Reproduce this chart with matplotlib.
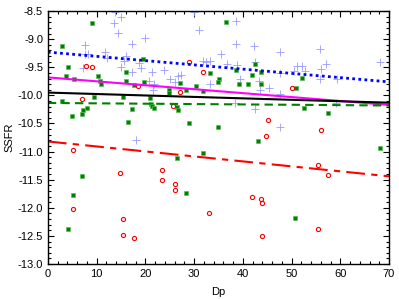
import numpy as np
import matplotlib
matplotlib.use('Agg')
import matplotlib.pyplot as plt
from matplotlib.ticker import MultipleLocator

# blue plus points
blue_x = [13.7, 15.1, 13.6, 14.3, 19.9, 7.7, 17.3, 7.7, 8.2, 11.8, 12.2, 16.0, 15.7, 15.1,
          7.3, 17.3, 18.7, 19.2, 21.3, 20.7, 21.7, 21.6, 23.8, 18.0,
          31.0, 30.0, 38.7, 38.7, 42.3, 31.8, 32.5, 33.2, 36.7, 38.9, 42.6,
          26.7, 27.3, 25.1, 26.0, 33.2, 39.4, 43.4, 43.5, 38.3, 42.4, 35.6,
          47.6, 55.8, 51.1, 52.1, 50.6, 52.8, 56.0, 57.0, 55.9, 59.3, 68.2,
          47.6, 59.2, 47.7, 47.6, 45.4]
blue_y = [-8.52, -8.61, -8.71, -8.89, -8.98, -9.10, -9.09, -9.27, -9.26, -9.22, -9.34, -9.30, -9.39, -9.50,
          -9.51, -9.59, -9.42, -9.52, -9.58, -9.74, -9.80, -9.90, -9.55, -10.80,
          -8.84, -8.52, -8.68, -9.08, -9.13, -9.39, -9.40, -9.39, -9.44, -9.46, -9.40,
          -9.65, -9.63, -9.71, -9.77, -9.79, -9.70, -9.75, -9.91, -10.14, -10.25, -9.27,
          -9.23, -9.17, -9.47, -9.47, -9.56, -9.56, -9.53, -9.45, -9.70, -9.71, -9.41,
          -9.97, -10.14, -10.56, -9.60, -9.86]

# green square points
green_x = [9.0, 2.9, 4.2, 3.7, 5.3, 10.3, 10.7, 11.0, 16.0, 16.0, 19.5, 19.7, 17.7,
           2.9, 9.4, 15.4, 20.9, 21.2, 21.4, 21.7, 4.9, 7.0, 7.3, 8.0, 17.3, 16.4,
           36.6, 24.9, 24.9, 27.2, 28.4, 30.3, 31.9, 33.2, 35.2, 35.0, 38.7, 39.3, 41.0,
           41.8, 42.5, 43.7, 43.7, 26.4, 26.6, 28.9, 35.0,
           52.1, 51.0, 52.6, 57.5, 68.2, 50.7, 43.1, 31.9, 26.4, 28.4, 7.1, 5.2, 4.2]
green_y = [-8.71, -9.12, -9.50, -9.65, -9.70, -9.66, -9.75, -9.80, -9.59, -9.74, -9.36, -9.77, -9.82,
           -10.10, -10.02, -10.02, -10.05, -10.16, -10.19, -10.22, -10.37, -10.33, -10.26, -10.22, -10.24, -10.47,
           -8.70, -9.90, -9.96, -9.78, -9.91, -9.83, -9.93, -9.60, -9.70, -9.76, -9.54, -9.80, -9.80,
           -9.63, -9.45, -9.59, -9.80, -10.20, -10.26, -10.49, -10.57,
           -9.69, -9.86, -10.23, -10.31, -10.94, -12.18, -10.82, -11.03, -11.12, -11.74, -11.43, -11.78, -12.38]

# red open circles
red_x = [7.9, 9.0, 7.1, 18.4, 25.7, 27.2, 28.9, 31.8, 45.2, 44.8, 50.1, 56.0,
         5.1, 14.7, 23.5, 23.5, 5.1, 15.4, 15.4, 17.7, 26.1, 26.1, 33.1, 41.8,
         43.7, 43.9, 43.9, 55.5, 57.5, 55.5]
red_y = [-9.47, -9.50, -10.06, -9.83, -10.19, -9.94, -9.41, -9.59, -10.43, -10.73, -9.86, -10.62,
         -10.98, -11.38, -11.32, -11.51, -12.03, -12.20, -12.49, -12.54, -11.57, -11.69, -12.10, -11.80,
         -11.84, -11.92, -12.51, -11.24, -11.41, -12.37]

# fitted lines: value at Dp=0 and Dp=70
line_x = [0, 70]
blue_fit = [-9.23, -9.76]
magenta_fit = [-9.68, -10.17]
black_fit = [-9.95, -10.13]
green_fit = [-10.135, -10.18]
red_fit = [-10.82, -11.44]

plt.rcParams['font.family'] = 'Liberation Sans'
plt.rcParams['font.size'] = 8

fig = plt.figure(figsize=(3.99, 2.99), dpi=100)
ax = fig.add_axes([0.120, 0.117, 0.855, 0.846])

ax.plot(blue_x, blue_y, '+', color='#9a9aff', markersize=6, markeredgewidth=0.6)
ax.plot(green_x, green_y, 's', color='#008000', markersize=3.5, markeredgewidth=0.5,
        markeredgecolor='#5cb85c')
ax.plot(red_x, red_y, 'o', markerfacecolor='none', markeredgecolor='red',
        markersize=3, markeredgewidth=0.8)

ax.plot(line_x, blue_fit, color='blue', linestyle=(0, (1, 1.2)), linewidth=2)
ax.plot(line_x, magenta_fit, color='magenta', linewidth=1.5)
ax.plot(line_x, black_fit, color='black', linewidth=1.5)
ax.plot(line_x, green_fit, color='#008000', linestyle=(0, (4, 2.5)), linewidth=1.5)
ax.plot(line_x, red_fit, color='red', linestyle=(0, (9, 3, 3, 3)), linewidth=1.5)

ax.set_xlim(0, 70)
ax.set_ylim(-13.0, -8.5)
ax.xaxis.set_major_locator(MultipleLocator(10))
ax.xaxis.set_minor_locator(MultipleLocator(2))
ax.yaxis.set_major_locator(MultipleLocator(0.5))
ax.yaxis.set_minor_locator(MultipleLocator(0.1))
ax.yaxis.set_major_formatter(matplotlib.ticker.FormatStrFormatter('%.1f'))
ax.tick_params(which='both', direction='in', top=True, right=True, width=0.8)
ax.tick_params(which='major', length=4)
ax.tick_params(which='minor', length=2)
for s in ax.spines.values():
    s.set_linewidth(1.0)

ax.set_xlabel('Dp', labelpad=6)
ax.set_ylabel('SSFR', labelpad=2)

fig.savefig('out.png', dpi=100)
